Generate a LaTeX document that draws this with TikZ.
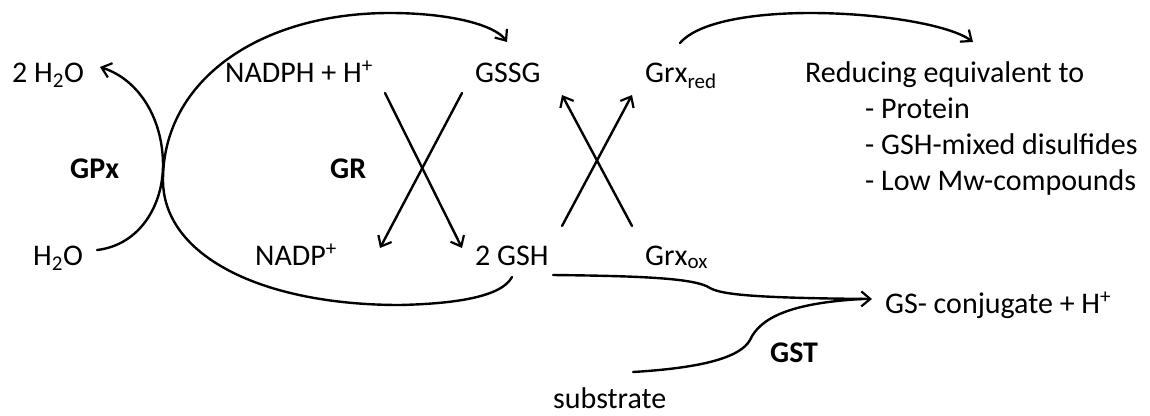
\documentclass[tikz,border=0pt]{standalone}
\usepackage{fontspec}
\setmainfont{Carlito}
\usetikzlibrary{arrows.meta}
\tikzset{
  lbl/.style={anchor=base west, inner sep=0pt, font=\fontsize{30}{36}\selectfont},
  enz/.style={lbl, font=\fontsize{30}{36}\selectfont\bfseries},
  conn/.style={line width=2.4pt, line cap=round},
  arr/.style={conn, -{Straight Barb[length=9pt,width=15pt,line width=2.2pt]}}
}
\begin{document}
\begin{tikzpicture}[x=1pt,y=-1pt]
\useasboundingbox (0,0) rectangle (1150,415);
% labels
\node[lbl] (h2o2) at (12,82) {2 H\textsubscript{2}O};
\node[lbl] (nadph) at (225,82) {NADPH + H\textsuperscript{+}};
\node[lbl] (gssg) at (475,82) {GSSG};
\node[lbl] (grxred) at (645,82) {Grx\textsubscript{red}};
\node[lbl] (red) at (805,82) {Reducing equivalent to};
\node[lbl] (prot) at (865,118) {- Protein};
\node[lbl] (mix) at (865,154) {- GSH-mixed disulfides};
\node[lbl] (low) at (865,190) {- Low Mw-compounds};
\node[enz] (gpx) at (70,178) {GPx};
\node[enz] (gr) at (330,178) {GR};
\node[lbl] (h2o) at (33,265) {H\textsubscript{2}O};
\node[lbl] (nadp) at (255,265) {NADP\textsuperscript{+}};
\node[lbl] (gsh) at (475,265) {2 GSH};
\node[lbl] (grxox) at (645,265) {Grx\textsubscript{ox}};
\node[lbl] (conj) at (885,313) {GS- conjugate + H\textsuperscript{+}};
\node[enz] (gst) at (770,362) {GST};
\node[lbl] (sub) at (553,408) {substrate};
% endpoints
\coordinate (h2oE) at (97,250);
\coordinate (h2o2E) at (100,67);
\coordinate (gshB) at (512,277);
\coordinate (gssgT) at (507,42);
\coordinate (nadphE) at (385,93);
\coordinate (gshT) at (462,248);
\coordinate (gssgB) at (462,93);
\coordinate (nadpT) at (380,248);
\coordinate (gshR) at (562,226);
\coordinate (grxredB) at (632,95);
\coordinate (grxoxT) at (632,226);
\coordinate (gssgR) at (562,95);
\coordinate (grxredT) at (680,43);
\coordinate (redT) at (973,42);
\coordinate (gshE) at (553,275);
\coordinate (conjW) at (872,299);
\coordinate (subE) at (633,372);
% connectors
\draw[arr] (h2oE) .. controls (140,245) and (163,205) .. (163,165) .. controls (163,120) and (140,80) .. (h2o2E);
\draw[arr] (gshB) .. controls (500,300) and (440,304) .. (400,305) .. controls (260,305) and (163,255) .. (163,180) .. controls (163,80) and (260,13) .. (390,13) .. controls (450,13) and (495,25) .. (gssgT);
\draw[arr] (nadphE) -- (gshT);
\draw[arr] (gssgB) -- (nadpT);
\draw[arr] (gshR) -- (grxredB);
\draw[arr] (grxoxT) -- (gssgR);
\draw[arr] (grxredT) .. controls (700,20) and (760,13) .. (810,13) .. controls (880,13) and (950,25) .. (redT);
\draw[arr] (gshE) .. controls (640,276) and (695,278) .. (710,288) .. controls (722,295) and (760,298) .. (conjW);
\draw[conn] (subE) .. controls (700,368) and (740,358) .. (750,340) .. controls (760,318) and (790,303) .. (862,299);
\end{tikzpicture}
\end{document}
